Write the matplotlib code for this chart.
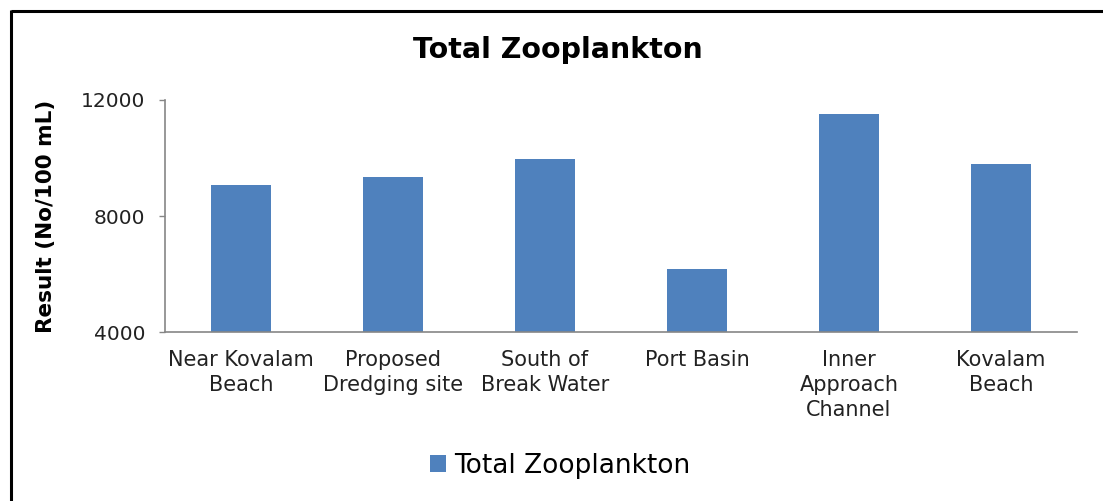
import matplotlib
matplotlib.use("Agg")
import matplotlib.pyplot as plt
from matplotlib.lines import Line2D

categories = ["Near Kovalam\nBeach", "Proposed\nDredging site", "South of\nBreak Water",
              "Port Basin", "Inner\nApproach\nChannel", "Kovalam\nBeach"]
values = [9070, 9330, 9970, 6170, 11500, 9790]
series_name = "Total Zooplankton"
yticks = [4000, 8000, 12000]

plt.rcParams['font.family'] = ['DejaVu Sans']

fig = plt.figure(figsize=(11.03, 5.01), dpi=100)
ax = fig.add_axes([165/1103, 1-332/501, (1077-165)/1103, (332-100)/501])

x = list(range(len(categories)))
ax.bar(x, values, width=0.4, color="#4F81BD", label=series_name, zorder=2)

ax.set_xlim(-0.5, len(categories) - 0.5)
ax.set_ylim(4000, 12000)
ax.set_yticks(yticks)
ax.set_yticklabels([str(v) for v in yticks], fontsize=14.5, color="#222222")
ax.set_xticks(x)
ax.set_xticklabels(categories, fontsize=15, color="#222222", linespacing=1.3)
ax.tick_params(axis='x', length=0, pad=13)
ax.tick_params(axis='y', length=4, width=1, color="#868686", pad=10)

for s in ["top", "right"]:
    ax.spines[s].set_visible(False)
for s in ["left", "bottom"]:
    ax.spines[s].set_color("#868686")
    ax.spines[s].set_linewidth(1.2)

ax.set_ylabel("Result (No/100 mL)", fontsize=15.5, fontweight="bold", labelpad=18)

fig.text(558/1103, 1-50/501, "Total Zooplankton", fontsize=20.5, fontweight="bold",
         ha="center", va="center")

leg = fig.legend(loc="center", bbox_to_anchor=(560/1103, 1-466/501), frameon=False,
                 fontsize=19, handlelength=0.6, handleheight=0.6, handletextpad=0.3)

# figure frame (top and left borders)
fig.add_artist(Line2D([10.5/1103, 1.0], [1-10.5/501, 1-10.5/501], color="black", linewidth=2.2,
                      solid_capstyle="butt", transform=fig.transFigure))
fig.add_artist(Line2D([10.5/1103, 10.5/1103], [0.0, 1-10/501], color="black", linewidth=2.2,
                      solid_capstyle="butt", transform=fig.transFigure))

fig.savefig("out.png", dpi=100)
